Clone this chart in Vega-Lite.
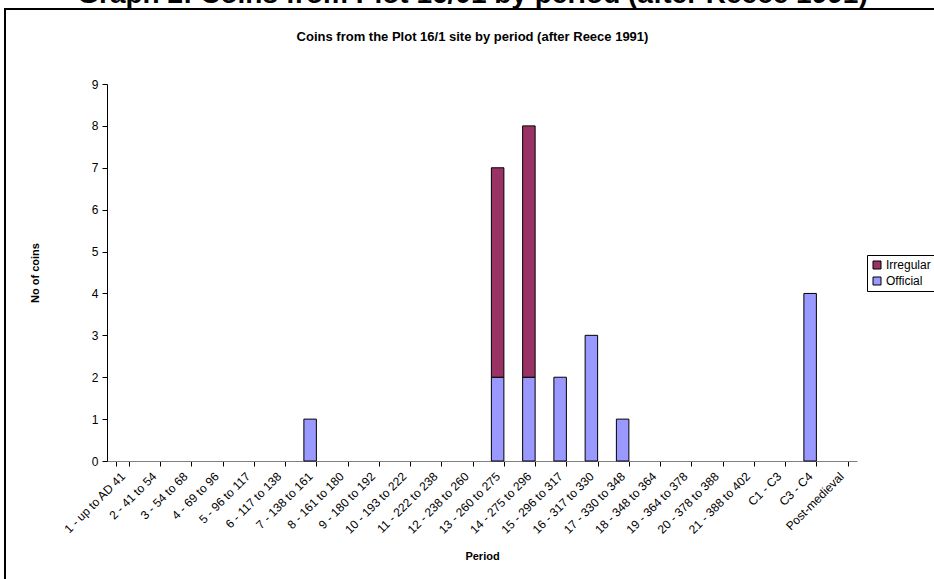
{
  "$schema": "https://vega.github.io/schema/vega-lite/v6.json",
  "autosize": "none",
  "width": 935,
  "height": 576,
  "padding": {"left": 5, "top": 9, "right": -6, "bottom": -6},
  "background": "white",
  "title": {
    "text": "Graph 2: Coins from Plot 16/01 by period (after Reece 1991)",
    "subtitle": "Coins from the Plot 16/1 site by period (after Reece 1991)",
    "anchor": "middle",
    "frame": "group",
    "orient": "top",
    "offset": -35,
    "font": "Liberation Sans",
    "fontSize": 28,
    "fontWeight": "bold",
    "color": "black",
    "subtitleFont": "Liberation Sans",
    "subtitleFontSize": 13,
    "subtitleFontWeight": "bold",
    "subtitleColor": "black",
    "subtitlePadding": 22
  },
  "config": {
    "view": {"stroke": "black", "strokeWidth": 2, "fill": "white"},
    "font": "Liberation Sans"
  },
  "data": {
    "values": [
      {"period": "7 - 138 to 161", "type": "Official", "coins": 1},
      {"period": "13 - 260 to 275", "type": "Official", "coins": 2},
      {"period": "13 - 260 to 275", "type": "Irregular", "coins": 5},
      {"period": "14 - 275 to 296", "type": "Official", "coins": 2},
      {"period": "14 - 275 to 296", "type": "Irregular", "coins": 6},
      {"period": "15 - 296 to 317", "type": "Official", "coins": 2},
      {"period": "16 - 317 to 330", "type": "Official", "coins": 3},
      {"period": "17 - 330 to 348", "type": "Official", "coins": 1},
      {"period": "C3 - C4", "type": "Official", "coins": 4}
    ]
  },
  "mark": {"type": "bar", "stroke": "black", "strokeWidth": 1},
  "encoding": {
    "x": {
      "field": "period",
      "type": "nominal",
      "sort": null,
      "scale": {
        "domain": ["1 - up to AD 41", "2 - 41 to 54", "3 - 54 to 68", "4 - 69 to 96", "5 - 96 to 117", "6 - 117 to 138", "7 - 138 to 161", "8 - 161 to 180", "9 - 180 to 192", "10 - 193 to 222", "11 - 222 to 238", "12 - 238 to 260", "13 - 260 to 275", "14 - 275 to 296", "15 - 296 to 317", "16 - 317 to 330", "17 - 330 to 348", "18 - 348 to 364", "19 - 364 to 378", "20 - 378 to 388", "21 - 388 to 402", "C1 - C3", "C3 - C4", "Post-medieval"],
        "range": [102, 852],
        "paddingInner": 0.6,
        "paddingOuter": 0.3
      },
      "axis": {
        "title": "Period",
        "orient": "bottom",
        "offset": -124,
        "labelAngle": -45,
        "labelAlign": "right",
        "labelBaseline": "middle",
        "labelFont": "Liberation Sans",
        "labelFontSize": 12,
        "labelColor": "black",
        "labelPadding": 8,
        "labelOverlap": false,
        "labelLimit": 0,
        "tickBand": "extent",
        "tickSize": 5,
        "tickColor": "black",
        "domainColor": "#808080",
        "domainWidth": 1,
        "titleFont": "Liberation Sans",
        "titleFontSize": 11,
        "titleFontWeight": "bold",
        "titleColor": "black",
        "titleY": 95,
        "titleBaseline": "middle"
      }
    },
    "y": {
      "field": "coins",
      "type": "quantitative",
      "stack": "zero",
      "scale": {"domain": [0, 9], "range": [452, 75], "nice": false},
      "axis": {
        "title": "No of coins",
        "offset": -102,
        "values": [0, 1, 2, 3, 4, 5, 6, 7, 8, 9],
        "grid": false,
        "tickSize": 5,
        "tickColor": "black",
        "domainColor": "black",
        "labelPadding": 4,
        "labelFont": "Liberation Sans",
        "labelFontSize": 12,
        "labelColor": "black",
        "titleFont": "Liberation Sans",
        "titleFontSize": 11,
        "titleFontWeight": "bold",
        "titleColor": "black",
        "titleX": -72,
        "titleBaseline": "middle"
      }
    },
    "color": {
      "field": "type",
      "type": "nominal",
      "scale": {"domain": ["Irregular", "Official"], "range": ["#993366", "#9999FF"]},
      "legend": {
        "orient": "none",
        "legendX": 862,
        "legendY": 246,
        "title": null,
        "strokeColor": "black",
        "fillColor": "white",
        "padding": 4,
        "symbolType": "square",
        "symbolSize": 64,
        "symbolStrokeColor": "black",
        "symbolStrokeWidth": 1,
        "symbolOpacity": 1,
        "labelFont": "Liberation Sans",
        "labelFontSize": 12,
        "labelColor": "black",
        "labelOffset": 3,
        "rowPadding": 4
      }
    },
    "order": {"field": "type", "sort": "descending"}
  }
}
